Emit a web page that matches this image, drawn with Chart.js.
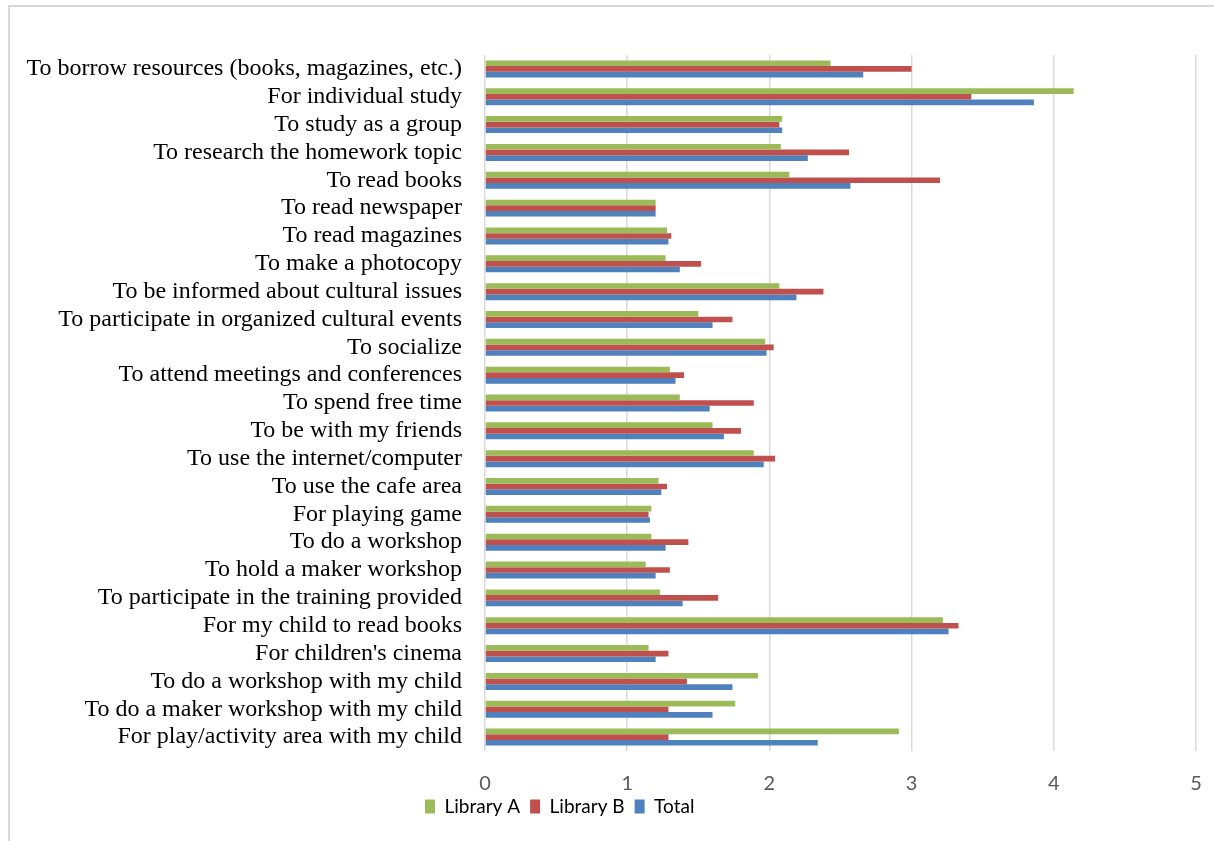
<!DOCTYPE html>
<html>
<head>
<meta charset="utf-8">
<script src="https://cdn.jsdelivr.net/npm/chart.js@4/dist/chart.umd.min.js"></script>
<style>
  html, body { margin: 0; padding: 0; background: #fff; }
  #wrap { position: relative; width: 1214px; height: 841px; overflow: hidden; }
  #frame { position: absolute; left: 8px; top: 5px; right: -4px; bottom: -4px;
           border-left: 2px solid #d9d9d9; border-top: 2px solid #d9d9d9; pointer-events: none; }
  canvas { position: absolute; left: 0; top: 0; }
</style>
</head>
<body>
<div id="wrap">
  <canvas id="chart" width="1214" height="841"></canvas>
  <div id="frame"></div>
</div>
<script>
// Reasons for visiting the library (mean scores, 0–5)
const categories = [
  "To borrow resources (books, magazines, etc.)",
  "For individual study",
  "To study as a group",
  "To research the homework topic",
  "To read books",
  "To read newspaper",
  "To read magazines",
  "To make a photocopy",
  "To be informed about cultural issues",
  "To participate in organized cultural events",
  "To socialize",
  "To attend meetings and conferences",
  "To spend free time",
  "To be with my friends",
  "To use the internet/computer",
  "To use the cafe area",
  "For playing game",
  "To do a workshop",
  "To hold a maker workshop",
  "To participate in the training provided",
  "For my child to read books",
  "For children's cinema",
  "To do a workshop with my child",
  "To do a maker workshop with my child",
  "For play/activity area with my child"
];

const libraryA = [2.43, 4.14, 2.09, 2.08, 2.14, 1.20, 1.28, 1.27, 2.07, 1.50, 1.97, 1.30, 1.37,
                  1.60, 1.89, 1.22, 1.17, 1.17, 1.13, 1.23, 3.22, 1.15, 1.92, 1.76, 2.91];
const libraryB = [3.00, 3.42, 2.07, 2.56, 3.20, 1.20, 1.31, 1.52, 2.38, 1.74, 2.03, 1.40, 1.89,
                  1.80, 2.04, 1.28, 1.15, 1.43, 1.30, 1.64, 3.33, 1.29, 1.42, 1.29, 1.29];
const total    = [2.66, 3.86, 2.09, 2.27, 2.57, 1.20, 1.29, 1.37, 2.19, 1.60, 1.98, 1.34, 1.58,
                  1.68, 1.96, 1.24, 1.16, 1.27, 1.20, 1.39, 3.26, 1.20, 1.74, 1.60, 2.34];

const seriesNames = ["Library A", "Library B", "Total"];
const xTicks = [0, 1, 2, 3, 4, 5];

const sansFamily = "Lato, 'Open Sans', sans-serif";

// Places the legend row under the value axis, left-aligned at a fixed spot
const legendPlacer = {
  id: 'legendPlacer',
  afterLayout(chart) {
    const lg = chart.legend;
    if (!lg) return;
    const w = lg.width, h = lg.height;
    lg.left = 415; lg.right = 415 + w;
    lg.top = 787; lg.bottom = 787 + h;
  }
};

new Chart(document.getElementById('chart'), {
  type: 'bar',
  data: {
    labels: categories,
    datasets: [
      { label: seriesNames[0], data: libraryA, backgroundColor: '#9BBB59', borderWidth: 0 },
      { label: seriesNames[1], data: libraryB, backgroundColor: '#C0504D', borderWidth: 0 },
      { label: seriesNames[2], data: total,    backgroundColor: '#4F81BD', borderWidth: 0 }
    ]
  },
  options: {
    indexAxis: 'y',
    responsive: false,
    animation: false,
    devicePixelRatio: 1,
    datasets: { bar: { categoryPercentage: 0.61, barPercentage: 1.0 } },
    layout: { padding: { top: 55, right: 18, bottom: 1, left: 0 } },
    scales: {
      x: {
        type: 'linear',
        min: xTicks[0],
        max: xTicks[xTicks.length - 1],
        afterBuildTicks(scale) { scale.ticks = xTicks.map(v => ({ value: v })); },
        afterFit(scale) {
          scale.height = 50;
          scale.paddingLeft = 0;
          scale.paddingRight = 0;
        },
        grid: { color: '#d9d9d9', lineWidth: 1.5, drawTicks: false },
        border: { display: false },
        ticks: {
          padding: 21,
          color: '#595959',
          font: { family: sansFamily, size: 20 }
        }
      },
      y: {
        type: 'category',
        afterFit(scale) { scale.width = 485; },
        grid: { display: false, drawTicks: false },
        border: { display: false },
        ticks: {
          autoSkip: false,
          padding: 23,
          color: '#000000',
          font: { family: "'Liberation Serif', 'Times New Roman', serif", size: 24 }
        }
      }
    },
    plugins: {
      legend: {
        position: 'bottom',
        align: 'start',
        labels: {
          boxWidth: 10,
          boxHeight: 14,
          padding: 10,
          color: '#000000',
          font: { family: sansFamily, size: 19 }
        }
      },
      tooltip: { enabled: false }
    }
  },
  plugins: [legendPlacer]
});
</script>
</body>
</html>
